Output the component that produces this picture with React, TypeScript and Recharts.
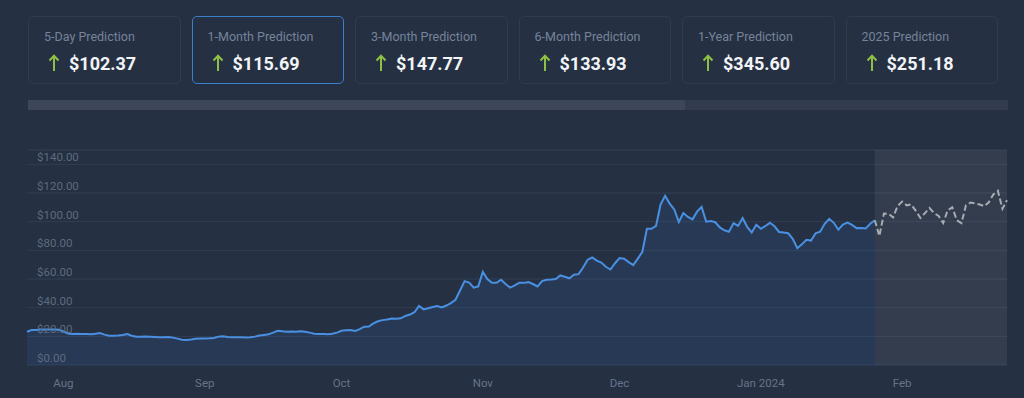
import { ComposedChart, Area, Line, XAxis, YAxis, CartesianGrid, ReferenceArea } from "recharts";

const cardTitles = ["5-Day Prediction", "1-Month Prediction", "3-Month Prediction", "6-Month Prediction", "1-Year Prediction", "2025 Prediction"];
const cardValues = ["$102.37", "$115.69", "$147.77", "$133.93", "$345.60", "$251.18"];
const activeCard = 1;

// daily closes from Jul 24 2023 (day 0) to Jan 26 2024 (day 186)
const priceHistory = [
  23.2, 24.4, 24.4, 24.8, 24.8, 24.8, 24.8, 24.6, 23.5, 22.0,
  21.6, 21.8, 21.6, 21.6, 21.4, 21.8, 22.3, 21.2, 20.4, 20.4,
  20.6, 20.9, 21.6, 20.4, 19.7, 19.7, 19.8, 19.7, 19.6, 19.3,
  19.3, 19.5, 19.1, 18.4, 17.6, 17.5, 17.8, 18.3, 18.5, 18.5,
  18.6, 18.8, 19.8, 20.0, 19.6, 19.3, 19.3, 19.4, 19.2, 19.3,
  19.8, 20.6, 21.0, 21.4, 22.6, 23.9, 23.5, 23.2, 23.4, 23.2,
  23.6, 23.2, 22.6, 21.8, 21.6, 21.6, 21.4, 21.8, 22.6, 23.9,
  24.2, 24.4, 23.8, 25.0, 26.7, 26.8, 29.0, 30.5, 31.3, 31.8,
  32.5, 32.3, 32.6, 34.2, 35.2, 36.8, 41.2, 38.8, 39.6, 40.4,
  41.1, 40.2, 41.5, 43.2, 45.5, 52.0, 58.5, 57.5, 54.0, 54.9,
  65.0, 60.0, 57.3, 57.3, 59.5, 56.5, 54.0, 55.5, 57.3, 57.3,
  57.8, 56.5, 54.8, 58.6, 59.5, 59.7, 60.0, 62.5, 61.6, 60.5,
  63.0, 63.4, 68.0, 73.5, 75.0, 72.8, 71.5, 68.5, 66.6, 71.0,
  74.6, 74.2, 71.8, 69.7, 74.2, 79.0, 95.0, 95.0, 97.0, 112.0,
  118.0, 112.6, 108.5, 99.8, 106.0, 103.3, 101.6, 107.0, 110.3, 100.0,
  100.5, 99.6, 96.0, 94.0, 93.0, 99.0, 97.0, 102.5, 96.4, 92.5,
  97.8, 95.0, 97.0, 99.2, 96.8, 92.8, 92.4, 91.9, 88.0, 81.5,
  84.2, 87.3, 86.8, 91.8, 93.0, 98.5, 102.0, 99.2, 94.5, 98.0,
  99.3, 97.8, 95.5, 95.6, 95.2, 98.5, 101.0,
];

// forecast from Jan 26 2024 (day 186) to Feb 24 2024 (day 215)
const priceForecast = [
  101.0, 90.0, 105.6, 105.5, 103.0, 111.0, 114.0, 111.4, 112.0, 107.5,
  102.6, 106.0, 109.5, 106.0, 104.0, 99.0, 108.0, 110.0, 101.0, 99.0,
  111.5, 113.3, 112.8, 112.0, 110.8, 113.5, 119.0, 121.5, 109.0, 115.0,
];

const monthTicks = [8, 39, 69, 100, 130, 161, 192];
const monthLabels = ["Aug", "Sep", "Oct", "Nov", "Dec", "Jan 2024", "Feb"];
const priceTicks = [0, 20, 40, 60, 80, 100, 120, 140];

const forecastStart = priceHistory.length - 1;
const lastDay = forecastStart + priceForecast.length - 1;

const chartData = Array.from({ length: lastDay + 1 }, (_, i) => ({
  day: i,
  price: i < priceHistory.length ? priceHistory[i] : null,
  forecast: i >= forecastStart ? priceForecast[i - forecastStart] : null,
}));

const FONT = "Roboto, 'Noto Sans', sans-serif";
const PLOT_LEFT = 27;

const PriceTick = ({ y, payload }: any) => (
  <text x={PLOT_LEFT + 10} y={y - 3} fill="#5d6b80" fontSize={11.5} fontFamily={FONT} textAnchor="start">
    {"$" + Number(payload.value).toFixed(2)}
  </text>
);

const MonthTick = ({ x, y, payload }: any) => (
  <text x={x} y={y + 20} fill="#66758b" fontSize={11.5} fontFamily={FONT} textAnchor="middle">
    {monthLabels[monthTicks.indexOf(payload.value)]}
  </text>
);

const UpArrow = () => (
  <svg width={12} height={18} style={{ marginLeft: 4, marginRight: 9 }}>
    <path d="M6 17 V2 M1.5 6.5 L6 1.8 L10.5 6.5" stroke="#8dc045" strokeWidth={2} fill="none" />
  </svg>
);

export default function App() {
  return (
    <div style={{ position: "absolute", left: 0, top: 0, width: 1024, height: 398, background: "#253042", fontFamily: FONT, overflow: "hidden" }}>
      <div style={{ position: "absolute", left: 28, top: 16, display: "flex", gap: 11 }}>
        {cardTitles.map((t, i) => (
          <div
            key={t}
            style={{
              boxSizing: "border-box",
              width: 152.5,
              height: 68,
              borderRadius: 5,
              border: i === activeCard ? "1px solid #3b7fcc" : "1px solid #303b4d",
              padding: "12px 0 0 15px",
            }}
          >
            <div style={{ fontSize: 12.5, color: "#76839a", lineHeight: "16px" }}>{t}</div>
            <div style={{ display: "flex", alignItems: "center", marginTop: 6, height: 24 }}>
              <UpArrow />
              <span style={{ color: "#f2f4f7", fontSize: 18, fontWeight: 700 }}>{cardValues[i]}</span>
            </div>
          </div>
        ))}
      </div>
      <div style={{ position: "absolute", left: 28, top: 100, width: 980, height: 10, background: "#323c4e" }}>
        <div style={{ width: 657, height: 10, background: "#3e4759" }} />
      </div>
      <div style={{ position: "absolute", left: 0, top: 120 }}>
        <ComposedChart width={1024} height={278} data={chartData} margin={{ top: 30, right: 17, bottom: 0, left: PLOT_LEFT }}>
          <CartesianGrid vertical={false} stroke="#323e52" />
          <ReferenceArea x1={forecastStart} x2={lastDay} y1={0} y2={150} fill="#ffffff" fillOpacity={0.065} stroke="none" />
          <XAxis
            dataKey="day"
            type="number"
            domain={[0, lastDay]}
            ticks={monthTicks}
            tick={<MonthTick />}
            axisLine={false}
            tickLine={false}
            tickSize={0}
            height={33}
          />
          <YAxis
            type="number"
            domain={[0, 150]}
            ticks={priceTicks}
            tick={<PriceTick />}
            axisLine={false}
            tickLine={false}
            mirror
            width={60}
            interval={0}
          />
          <Area
            type="linear"
            dataKey="price"
            stroke="#4a90e2"
            strokeWidth={2}
            fill="#3d7fd6"
            fillOpacity={0.13}
            dot={false}
            activeDot={false}
            isAnimationActive={false}
          />
          <Line
            type="linear"
            dataKey="forecast"
            stroke="#a7abb2"
            strokeWidth={2}
            strokeDasharray="6 3"
            dot={false}
            activeDot={false}
            isAnimationActive={false}
          />
        </ComposedChart>
      </div>
    </div>
  );
}
